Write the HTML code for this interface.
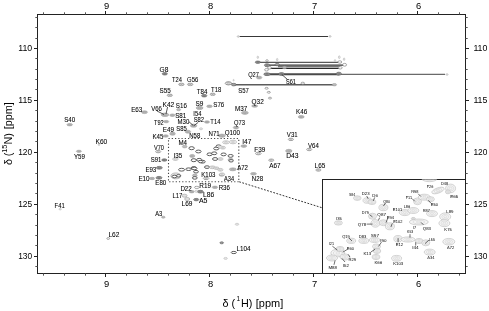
<!DOCTYPE html>
<html><head><meta charset="utf-8"><style>
html,body{margin:0;padding:0;background:#fff;}
svg{display:block;will-change:transform;}
text{font-family:"Liberation Sans",sans-serif;fill:#000;}
.tk{font-size:9.4px;}
.ttl{font-size:10.8px;}
.lb{font-size:6.5px;stroke:#000;stroke-width:0.07px;}
.sm{font-size:4.3px;text-rendering:geometricPrecision;}
</style></head><body>
<svg width="489" height="311" viewBox="0 0 489 311">
<rect x="37.5" y="14.5" width="428.0" height="259.0" fill="none" stroke="#222" stroke-width="1"/>
<line x1="43.5" y1="14.5" x2="43.5" y2="12.3" stroke="#555" stroke-width="1"/>
<line x1="43.5" y1="273.5" x2="43.5" y2="275.7" stroke="#555" stroke-width="1"/>
<line x1="64.5" y1="14.5" x2="64.5" y2="12.3" stroke="#555" stroke-width="1"/>
<line x1="64.5" y1="273.5" x2="64.5" y2="275.7" stroke="#555" stroke-width="1"/>
<line x1="85.5" y1="14.5" x2="85.5" y2="12.3" stroke="#555" stroke-width="1"/>
<line x1="85.5" y1="273.5" x2="85.5" y2="275.7" stroke="#555" stroke-width="1"/>
<line x1="105.5" y1="14.5" x2="105.5" y2="11.0" stroke="#222" stroke-width="1"/>
<line x1="105.5" y1="273.5" x2="105.5" y2="277.0" stroke="#222" stroke-width="1"/>
<text x="106.6" y="8.8" class="tk" text-anchor="middle">9</text>
<text x="106.6" y="287.2" class="tk" text-anchor="middle">9</text>
<line x1="126.5" y1="14.5" x2="126.5" y2="12.3" stroke="#555" stroke-width="1"/>
<line x1="126.5" y1="273.5" x2="126.5" y2="275.7" stroke="#555" stroke-width="1"/>
<line x1="147.5" y1="14.5" x2="147.5" y2="12.3" stroke="#555" stroke-width="1"/>
<line x1="147.5" y1="273.5" x2="147.5" y2="275.7" stroke="#555" stroke-width="1"/>
<line x1="168.5" y1="14.5" x2="168.5" y2="12.3" stroke="#555" stroke-width="1"/>
<line x1="168.5" y1="273.5" x2="168.5" y2="275.7" stroke="#555" stroke-width="1"/>
<line x1="189.5" y1="14.5" x2="189.5" y2="12.3" stroke="#555" stroke-width="1"/>
<line x1="189.5" y1="273.5" x2="189.5" y2="275.7" stroke="#555" stroke-width="1"/>
<line x1="209.5" y1="14.5" x2="209.5" y2="11.0" stroke="#222" stroke-width="1"/>
<line x1="209.5" y1="273.5" x2="209.5" y2="277.0" stroke="#222" stroke-width="1"/>
<text x="210.6" y="8.8" class="tk" text-anchor="middle">8</text>
<text x="210.6" y="287.2" class="tk" text-anchor="middle">8</text>
<line x1="230.5" y1="14.5" x2="230.5" y2="12.3" stroke="#555" stroke-width="1"/>
<line x1="230.5" y1="273.5" x2="230.5" y2="275.7" stroke="#555" stroke-width="1"/>
<line x1="251.5" y1="14.5" x2="251.5" y2="12.3" stroke="#555" stroke-width="1"/>
<line x1="251.5" y1="273.5" x2="251.5" y2="275.7" stroke="#555" stroke-width="1"/>
<line x1="272.5" y1="14.5" x2="272.5" y2="12.3" stroke="#555" stroke-width="1"/>
<line x1="272.5" y1="273.5" x2="272.5" y2="275.7" stroke="#555" stroke-width="1"/>
<line x1="293.5" y1="14.5" x2="293.5" y2="12.3" stroke="#555" stroke-width="1"/>
<line x1="293.5" y1="273.5" x2="293.5" y2="275.7" stroke="#555" stroke-width="1"/>
<line x1="313.5" y1="14.5" x2="313.5" y2="11.0" stroke="#222" stroke-width="1"/>
<line x1="313.5" y1="273.5" x2="313.5" y2="277.0" stroke="#222" stroke-width="1"/>
<text x="314.6" y="8.8" class="tk" text-anchor="middle">7</text>
<text x="314.6" y="287.2" class="tk" text-anchor="middle">7</text>
<line x1="334.5" y1="14.5" x2="334.5" y2="12.3" stroke="#555" stroke-width="1"/>
<line x1="334.5" y1="273.5" x2="334.5" y2="275.7" stroke="#555" stroke-width="1"/>
<line x1="355.5" y1="14.5" x2="355.5" y2="12.3" stroke="#555" stroke-width="1"/>
<line x1="355.5" y1="273.5" x2="355.5" y2="275.7" stroke="#555" stroke-width="1"/>
<line x1="376.5" y1="14.5" x2="376.5" y2="12.3" stroke="#555" stroke-width="1"/>
<line x1="376.5" y1="273.5" x2="376.5" y2="275.7" stroke="#555" stroke-width="1"/>
<line x1="397.5" y1="14.5" x2="397.5" y2="12.3" stroke="#555" stroke-width="1"/>
<line x1="397.5" y1="273.5" x2="397.5" y2="275.7" stroke="#555" stroke-width="1"/>
<line x1="417.5" y1="14.5" x2="417.5" y2="11.0" stroke="#222" stroke-width="1"/>
<line x1="417.5" y1="273.5" x2="417.5" y2="277.0" stroke="#222" stroke-width="1"/>
<text x="418.6" y="8.8" class="tk" text-anchor="middle">6</text>
<text x="418.6" y="287.2" class="tk" text-anchor="middle">6</text>
<line x1="438.5" y1="14.5" x2="438.5" y2="12.3" stroke="#555" stroke-width="1"/>
<line x1="438.5" y1="273.5" x2="438.5" y2="275.7" stroke="#555" stroke-width="1"/>
<line x1="459.5" y1="14.5" x2="459.5" y2="12.3" stroke="#555" stroke-width="1"/>
<line x1="459.5" y1="273.5" x2="459.5" y2="275.7" stroke="#555" stroke-width="1"/>
<line x1="37.5" y1="17.5" x2="35.3" y2="17.5" stroke="#555" stroke-width="1"/>
<line x1="465.5" y1="17.5" x2="467.7" y2="17.5" stroke="#555" stroke-width="1"/>
<line x1="37.5" y1="27.5" x2="35.3" y2="27.5" stroke="#555" stroke-width="1"/>
<line x1="465.5" y1="27.5" x2="467.7" y2="27.5" stroke="#555" stroke-width="1"/>
<line x1="37.5" y1="38.5" x2="35.3" y2="38.5" stroke="#555" stroke-width="1"/>
<line x1="465.5" y1="38.5" x2="467.7" y2="38.5" stroke="#555" stroke-width="1"/>
<line x1="37.5" y1="48.5" x2="34.0" y2="48.5" stroke="#222" stroke-width="1"/>
<line x1="465.5" y1="48.5" x2="469.0" y2="48.5" stroke="#222" stroke-width="1"/>
<text x="32.2" y="51.1" class="tk" text-anchor="end" textLength="14" lengthAdjust="spacingAndGlyphs">110</text>
<text x="473.4" y="51.1" class="tk" textLength="14" lengthAdjust="spacingAndGlyphs">110</text>
<line x1="37.5" y1="58.5" x2="35.3" y2="58.5" stroke="#555" stroke-width="1"/>
<line x1="465.5" y1="58.5" x2="467.7" y2="58.5" stroke="#555" stroke-width="1"/>
<line x1="37.5" y1="69.5" x2="35.3" y2="69.5" stroke="#555" stroke-width="1"/>
<line x1="465.5" y1="69.5" x2="467.7" y2="69.5" stroke="#555" stroke-width="1"/>
<line x1="37.5" y1="79.5" x2="35.3" y2="79.5" stroke="#555" stroke-width="1"/>
<line x1="465.5" y1="79.5" x2="467.7" y2="79.5" stroke="#555" stroke-width="1"/>
<line x1="37.5" y1="89.5" x2="35.3" y2="89.5" stroke="#555" stroke-width="1"/>
<line x1="465.5" y1="89.5" x2="467.7" y2="89.5" stroke="#555" stroke-width="1"/>
<line x1="37.5" y1="100.5" x2="34.0" y2="100.5" stroke="#222" stroke-width="1"/>
<line x1="465.5" y1="100.5" x2="469.0" y2="100.5" stroke="#222" stroke-width="1"/>
<text x="32.2" y="103.1" class="tk" text-anchor="end" textLength="14" lengthAdjust="spacingAndGlyphs">115</text>
<text x="473.4" y="103.1" class="tk" textLength="14" lengthAdjust="spacingAndGlyphs">115</text>
<line x1="37.5" y1="110.5" x2="35.3" y2="110.5" stroke="#555" stroke-width="1"/>
<line x1="465.5" y1="110.5" x2="467.7" y2="110.5" stroke="#555" stroke-width="1"/>
<line x1="37.5" y1="121.5" x2="35.3" y2="121.5" stroke="#555" stroke-width="1"/>
<line x1="465.5" y1="121.5" x2="467.7" y2="121.5" stroke="#555" stroke-width="1"/>
<line x1="37.5" y1="131.5" x2="35.3" y2="131.5" stroke="#555" stroke-width="1"/>
<line x1="465.5" y1="131.5" x2="467.7" y2="131.5" stroke="#555" stroke-width="1"/>
<line x1="37.5" y1="141.5" x2="35.3" y2="141.5" stroke="#555" stroke-width="1"/>
<line x1="465.5" y1="141.5" x2="467.7" y2="141.5" stroke="#555" stroke-width="1"/>
<line x1="37.5" y1="152.5" x2="34.0" y2="152.5" stroke="#222" stroke-width="1"/>
<line x1="465.5" y1="152.5" x2="469.0" y2="152.5" stroke="#222" stroke-width="1"/>
<text x="32.2" y="155.1" class="tk" text-anchor="end" textLength="14" lengthAdjust="spacingAndGlyphs">120</text>
<text x="473.4" y="155.1" class="tk" textLength="14" lengthAdjust="spacingAndGlyphs">120</text>
<line x1="37.5" y1="162.5" x2="35.3" y2="162.5" stroke="#555" stroke-width="1"/>
<line x1="465.5" y1="162.5" x2="467.7" y2="162.5" stroke="#555" stroke-width="1"/>
<line x1="37.5" y1="173.5" x2="35.3" y2="173.5" stroke="#555" stroke-width="1"/>
<line x1="465.5" y1="173.5" x2="467.7" y2="173.5" stroke="#555" stroke-width="1"/>
<line x1="37.5" y1="183.5" x2="35.3" y2="183.5" stroke="#555" stroke-width="1"/>
<line x1="465.5" y1="183.5" x2="467.7" y2="183.5" stroke="#555" stroke-width="1"/>
<line x1="37.5" y1="193.5" x2="35.3" y2="193.5" stroke="#555" stroke-width="1"/>
<line x1="465.5" y1="193.5" x2="467.7" y2="193.5" stroke="#555" stroke-width="1"/>
<line x1="37.5" y1="204.5" x2="34.0" y2="204.5" stroke="#222" stroke-width="1"/>
<line x1="465.5" y1="204.5" x2="469.0" y2="204.5" stroke="#222" stroke-width="1"/>
<text x="32.2" y="207.1" class="tk" text-anchor="end" textLength="14" lengthAdjust="spacingAndGlyphs">125</text>
<text x="473.4" y="207.1" class="tk" textLength="14" lengthAdjust="spacingAndGlyphs">125</text>
<line x1="37.5" y1="214.5" x2="35.3" y2="214.5" stroke="#555" stroke-width="1"/>
<line x1="465.5" y1="214.5" x2="467.7" y2="214.5" stroke="#555" stroke-width="1"/>
<line x1="37.5" y1="225.5" x2="35.3" y2="225.5" stroke="#555" stroke-width="1"/>
<line x1="465.5" y1="225.5" x2="467.7" y2="225.5" stroke="#555" stroke-width="1"/>
<line x1="37.5" y1="235.5" x2="35.3" y2="235.5" stroke="#555" stroke-width="1"/>
<line x1="465.5" y1="235.5" x2="467.7" y2="235.5" stroke="#555" stroke-width="1"/>
<line x1="37.5" y1="245.5" x2="35.3" y2="245.5" stroke="#555" stroke-width="1"/>
<line x1="465.5" y1="245.5" x2="467.7" y2="245.5" stroke="#555" stroke-width="1"/>
<line x1="37.5" y1="256.5" x2="34.0" y2="256.5" stroke="#222" stroke-width="1"/>
<line x1="465.5" y1="256.5" x2="469.0" y2="256.5" stroke="#222" stroke-width="1"/>
<text x="32.2" y="259.1" class="tk" text-anchor="end" textLength="14" lengthAdjust="spacingAndGlyphs">130</text>
<text x="473.4" y="259.1" class="tk" textLength="14" lengthAdjust="spacingAndGlyphs">130</text>
<line x1="37.5" y1="266.5" x2="35.3" y2="266.5" stroke="#555" stroke-width="1"/>
<line x1="465.5" y1="266.5" x2="467.7" y2="266.5" stroke="#555" stroke-width="1"/>
<g class="ttl"><text x="222.6" y="306.9">&#948;</text><text x="231.6" y="306.9">(</text><text x="236.6" y="300.9" font-size="6.6">1</text><text x="240.9" y="306.9">H)</text><text x="255.8" y="306.9" textLength="27.4" lengthAdjust="spacingAndGlyphs">[ppm]</text></g>
<g class="ttl" transform="translate(11.7,0) rotate(-90)"><text x="-164.9" y="0">&#948;</text><text x="-156.25" y="0">(</text><text x="-152.75" y="-5.1" font-size="7.2">15</text><text x="-144.6" y="0">N)</text><text x="-129.35" y="0" textLength="27.2" lengthAdjust="spacingAndGlyphs">[ppm]</text></g>
<line x1="239.3" y1="36.5" x2="328" y2="36.5" stroke="#383838" stroke-width="1.0"/>
<line x1="257" y1="62.3" x2="340" y2="62.3" stroke="#303030" stroke-width="1.0"/>
<line x1="267" y1="65.1" x2="344" y2="65.1" stroke="#333" stroke-width="1.3"/>
<line x1="278" y1="66.7" x2="340" y2="66.7" stroke="#555" stroke-width="1.0"/>
<line x1="270" y1="68.3" x2="340" y2="68.3" stroke="#2a2a2a" stroke-width="1.2"/>
<line x1="265" y1="74.2" x2="339" y2="74.2" stroke="#4a4a4a" stroke-width="2.0"/>
<line x1="339" y1="74.4" x2="445" y2="74.4" stroke="#6a6a6a" stroke-width="1.1"/>
<line x1="234" y1="84.8" x2="334" y2="84.8" stroke="#5c5c5c" stroke-width="1.4"/>
<ellipse cx="164.8" cy="73.8" rx="2.6" ry="1.25" fill="#a0a0a0" stroke="#555" stroke-width="0.6"/>
<ellipse cx="164.8" cy="73.8" rx="1.17" ry="0.56" fill="none" stroke="#555" stroke-width="0.4"/>
<ellipse cx="181.4" cy="84.4" rx="2.8" ry="1.3" fill="#d8d8d8" stroke="#7a7a7a" stroke-width="0.45"/>
<ellipse cx="180.22" cy="84.4" rx="0.92" ry="0.65" fill="#fff" stroke="#6a6a6a" stroke-width="0.4"/>
<ellipse cx="182.58" cy="84.4" rx="0.92" ry="0.65" fill="#fff" stroke="#6a6a6a" stroke-width="0.4"/>
<ellipse cx="190.2" cy="84.4" rx="2.8" ry="1.3" fill="#d8d8d8" stroke="#7a7a7a" stroke-width="0.45"/>
<ellipse cx="189.02" cy="84.4" rx="0.92" ry="0.65" fill="#fff" stroke="#6a6a6a" stroke-width="0.4"/>
<ellipse cx="191.38" cy="84.4" rx="0.92" ry="0.65" fill="#fff" stroke="#6a6a6a" stroke-width="0.4"/>
<ellipse cx="228.6" cy="83.3" rx="3.2" ry="1.5" fill="#ffffff" stroke="#707070" stroke-width="0.6"/>
<ellipse cx="228.6" cy="83.3" rx="1.44" ry="0.68" fill="none" stroke="#707070" stroke-width="0.4"/>
<ellipse cx="169.8" cy="95.3" rx="2.7" ry="1.3" fill="#d8d8d8" stroke="#7a7a7a" stroke-width="0.45"/>
<ellipse cx="168.67" cy="95.3" rx="0.89" ry="0.65" fill="#fff" stroke="#6a6a6a" stroke-width="0.4"/>
<ellipse cx="170.93" cy="95.3" rx="0.89" ry="0.65" fill="#fff" stroke="#6a6a6a" stroke-width="0.4"/>
<ellipse cx="204.2" cy="95.7" rx="2.7" ry="1.3" fill="#a0a0a0" stroke="#555" stroke-width="0.6"/>
<ellipse cx="204.2" cy="95.7" rx="1.22" ry="0.59" fill="none" stroke="#555" stroke-width="0.4"/>
<ellipse cx="212.7" cy="94.3" rx="2.6" ry="1.3" fill="#d8d8d8" stroke="#7a7a7a" stroke-width="0.45"/>
<ellipse cx="211.61" cy="94.3" rx="0.86" ry="0.65" fill="#fff" stroke="#6a6a6a" stroke-width="0.4"/>
<ellipse cx="213.79" cy="94.3" rx="0.86" ry="0.65" fill="#fff" stroke="#6a6a6a" stroke-width="0.4"/>
<ellipse cx="233.7" cy="84.6" rx="2.4" ry="1.3" fill="#a0a0a0" stroke="#555" stroke-width="0.6"/>
<ellipse cx="257.8" cy="62.2" rx="2.6" ry="1.2" fill="#a0a0a0" stroke="#555" stroke-width="0.6"/>
<ellipse cx="257.8" cy="62.2" rx="1.17" ry="0.54" fill="none" stroke="#555" stroke-width="0.4"/>
<ellipse cx="267" cy="65.2" rx="2.6" ry="1.5" fill="#a0a0a0" stroke="#555" stroke-width="0.6"/>
<ellipse cx="267" cy="65.2" rx="1.17" ry="0.68" fill="none" stroke="#555" stroke-width="0.4"/>
<ellipse cx="277.2" cy="64.6" rx="2.2" ry="1.2" fill="#a0a0a0" stroke="#555" stroke-width="0.6"/>
<ellipse cx="284.5" cy="67.5" rx="2.2" ry="1.2" fill="#bcbcbc" stroke="#959595" stroke-width="0.5"/>
<ellipse cx="267" cy="74.2" rx="3.2" ry="1.4" fill="#a0a0a0" stroke="#555" stroke-width="0.6"/>
<ellipse cx="267" cy="74.2" rx="1.44" ry="0.63" fill="none" stroke="#555" stroke-width="0.4"/>
<ellipse cx="281.5" cy="74.0" rx="2.8" ry="1.4" fill="#a0a0a0" stroke="#555" stroke-width="0.6"/>
<ellipse cx="281.5" cy="74.0" rx="1.26" ry="0.63" fill="none" stroke="#555" stroke-width="0.4"/>
<ellipse cx="259.1" cy="77.6" rx="2.8" ry="1.4" fill="#bcbcbc" stroke="#959595" stroke-width="0.5"/>
<ellipse cx="259.1" cy="77.6" rx="1.26" ry="0.63" fill="none" stroke="#959595" stroke-width="0.4"/>
<ellipse cx="266.5" cy="69.8" rx="2.0" ry="1.2" fill="#ffffff" stroke="#707070" stroke-width="0.6"/>
<ellipse cx="269.5" cy="67.8" rx="2.0" ry="1.2" fill="#ffffff" stroke="#707070" stroke-width="0.6"/>
<ellipse cx="339.8" cy="62" rx="2.0" ry="1.2" fill="#ffffff" stroke="#707070" stroke-width="0.6"/>
<ellipse cx="344.6" cy="64.8" rx="2.0" ry="1.4" fill="#ffffff" stroke="#707070" stroke-width="0.6"/>
<ellipse cx="340.2" cy="67.8" rx="2.0" ry="1.2" fill="#ffffff" stroke="#707070" stroke-width="0.6"/>
<ellipse cx="338.8" cy="73.7" rx="2.6" ry="1.5" fill="#a0a0a0" stroke="#555" stroke-width="0.6"/>
<ellipse cx="338.8" cy="73.7" rx="1.17" ry="0.68" fill="none" stroke="#555" stroke-width="0.4"/>
<ellipse cx="334.4" cy="84.7" rx="2.2" ry="1.2" fill="#bcbcbc" stroke="#959595" stroke-width="0.5"/>
<ellipse cx="266.6" cy="88.3" rx="1.6" ry="0.9" fill="#ffffff" stroke="#707070" stroke-width="0.6"/>
<ellipse cx="268.8" cy="92.3" rx="1.6" ry="0.9" fill="#ffffff" stroke="#707070" stroke-width="0.6"/>
<ellipse cx="270" cy="98.1" rx="1.6" ry="0.9" fill="#ffffff" stroke="#707070" stroke-width="0.6"/>
<ellipse cx="302.8" cy="83.2" rx="1.8" ry="1.0" fill="#ffffff" stroke="#707070" stroke-width="0.6"/>
<ellipse cx="238.3" cy="36.5" rx="1.2" ry="0.8" fill="#f5f5f5" stroke="#acacac" stroke-width="0.5"/>
<ellipse cx="238.3" cy="36.5" rx="0.74" ry="0.50" fill="none" stroke="#c6c6c6" stroke-width="0.45"/>
<ellipse cx="238.3" cy="36.5" rx="0.34" ry="0.22" fill="none" stroke="#c6c6c6" stroke-width="0.4"/>
<ellipse cx="257.8" cy="57.3" rx="0.8" ry="1.2" fill="#e6e6e6" stroke="#b0b0b0" stroke-width="0.5"/>
<ellipse cx="277.2" cy="59.6" rx="0.8" ry="1.2" fill="#e6e6e6" stroke="#b0b0b0" stroke-width="0.5"/>
<ellipse cx="267" cy="60.7" rx="1.2" ry="1.0" fill="#ffffff" stroke="#707070" stroke-width="0.6"/>
<ellipse cx="335" cy="60.6" rx="0.8" ry="1.0" fill="#e6e6e6" stroke="#b0b0b0" stroke-width="0.5"/>
<ellipse cx="339.3" cy="57.2" rx="0.9" ry="1.4" fill="#e6e6e6" stroke="#b0b0b0" stroke-width="0.5"/>
<ellipse cx="344.1" cy="59.2" rx="0.8" ry="1.3" fill="#e6e6e6" stroke="#b0b0b0" stroke-width="0.5"/>
<ellipse cx="233.6" cy="80.2" rx="0.6" ry="0.8" fill="#e6e6e6" stroke="#b0b0b0" stroke-width="0.5"/>
<ellipse cx="330" cy="36.4" rx="1.2" ry="0.8" fill="#f5f5f5" stroke="#acacac" stroke-width="0.5"/>
<ellipse cx="330" cy="36.4" rx="0.74" ry="0.50" fill="none" stroke="#c6c6c6" stroke-width="0.45"/>
<ellipse cx="330" cy="36.4" rx="0.34" ry="0.22" fill="none" stroke="#c6c6c6" stroke-width="0.4"/>
<ellipse cx="447" cy="74.5" rx="1.2" ry="0.8" fill="#f5f5f5" stroke="#acacac" stroke-width="0.5"/>
<ellipse cx="447" cy="74.5" rx="0.74" ry="0.50" fill="none" stroke="#c6c6c6" stroke-width="0.45"/>
<ellipse cx="447" cy="74.5" rx="0.34" ry="0.22" fill="none" stroke="#c6c6c6" stroke-width="0.4"/>
<ellipse cx="228.2" cy="83.4" rx="3" ry="1.4" fill="#ffffff" stroke="#707070" stroke-width="0.6"/>
<ellipse cx="228.2" cy="83.4" rx="1.35" ry="0.63" fill="none" stroke="#707070" stroke-width="0.4"/>
<ellipse cx="144.5" cy="112.2" rx="3.0" ry="1.4" fill="#bcbcbc" stroke="#959595" stroke-width="0.5"/>
<ellipse cx="144.5" cy="112.2" rx="1.35" ry="0.63" fill="none" stroke="#959595" stroke-width="0.4"/>
<ellipse cx="165.0" cy="114.8" rx="3.8" ry="1.8" fill="#bcbcbc" stroke="#959595" stroke-width="0.5"/>
<ellipse cx="165.0" cy="114.8" rx="1.71" ry="0.81" fill="none" stroke="#959595" stroke-width="0.4"/>
<ellipse cx="172.4" cy="115.2" rx="2.6" ry="1.3" fill="#bcbcbc" stroke="#959595" stroke-width="0.5"/>
<ellipse cx="172.4" cy="115.2" rx="1.17" ry="0.59" fill="none" stroke="#959595" stroke-width="0.4"/>
<ellipse cx="178.6" cy="109.7" rx="2.0" ry="1.1" fill="#bcbcbc" stroke="#959595" stroke-width="0.5"/>
<ellipse cx="199.6" cy="107.9" rx="3.4" ry="1.6" fill="#bcbcbc" stroke="#959595" stroke-width="0.5"/>
<ellipse cx="199.6" cy="107.9" rx="1.53" ry="0.72" fill="none" stroke="#959595" stroke-width="0.4"/>
<ellipse cx="209.5" cy="106.3" rx="2.8" ry="1.3" fill="#bcbcbc" stroke="#959595" stroke-width="0.5"/>
<ellipse cx="209.5" cy="106.3" rx="1.26" ry="0.59" fill="none" stroke="#959595" stroke-width="0.4"/>
<ellipse cx="166.2" cy="121.6" rx="2.6" ry="1.2" fill="#bcbcbc" stroke="#959595" stroke-width="0.5"/>
<ellipse cx="166.2" cy="121.6" rx="1.17" ry="0.54" fill="none" stroke="#959595" stroke-width="0.4"/>
<ellipse cx="207.0" cy="122.0" rx="2.6" ry="1.2" fill="#bcbcbc" stroke="#959595" stroke-width="0.5"/>
<ellipse cx="207.0" cy="122.0" rx="1.17" ry="0.54" fill="none" stroke="#959595" stroke-width="0.4"/>
<ellipse cx="193.6" cy="125.7" rx="3.2" ry="1.6" fill="#bcbcbc" stroke="#959595" stroke-width="0.5"/>
<ellipse cx="193.6" cy="125.7" rx="1.44" ry="0.72" fill="none" stroke="#959595" stroke-width="0.4"/>
<ellipse cx="201" cy="128.8" rx="1.6" ry="1.0" fill="#e6e6e6" stroke="#b0b0b0" stroke-width="0.5"/>
<ellipse cx="236" cy="127.6" rx="2.8" ry="1.4" fill="#bcbcbc" stroke="#959595" stroke-width="0.5"/>
<ellipse cx="236" cy="127.6" rx="1.26" ry="0.63" fill="none" stroke="#959595" stroke-width="0.4"/>
<ellipse cx="172.5" cy="133.7" rx="2.8" ry="1.6" fill="#bcbcbc" stroke="#959595" stroke-width="0.5"/>
<ellipse cx="172.5" cy="133.7" rx="1.26" ry="0.72" fill="none" stroke="#959595" stroke-width="0.4"/>
<ellipse cx="187.9" cy="131.7" rx="2.8" ry="1.5" fill="#bcbcbc" stroke="#959595" stroke-width="0.5"/>
<ellipse cx="187.9" cy="131.7" rx="1.26" ry="0.68" fill="none" stroke="#959595" stroke-width="0.4"/>
<ellipse cx="165.8" cy="136.0" rx="2.6" ry="1.2" fill="#bcbcbc" stroke="#959595" stroke-width="0.5"/>
<ellipse cx="165.8" cy="136.0" rx="1.17" ry="0.54" fill="none" stroke="#959595" stroke-width="0.4"/>
<ellipse cx="221.9" cy="135.7" rx="3.4" ry="1.6" fill="#bcbcbc" stroke="#959595" stroke-width="0.5"/>
<ellipse cx="221.9" cy="135.7" rx="1.53" ry="0.72" fill="none" stroke="#959595" stroke-width="0.4"/>
<ellipse cx="254.7" cy="106" rx="3.0" ry="1.3" fill="#bcbcbc" stroke="#959595" stroke-width="0.5"/>
<ellipse cx="254.7" cy="106" rx="1.35" ry="0.59" fill="none" stroke="#959595" stroke-width="0.4"/>
<ellipse cx="244.9" cy="112.8" rx="3.4" ry="1.6" fill="#bcbcbc" stroke="#959595" stroke-width="0.5"/>
<ellipse cx="244.9" cy="112.8" rx="1.53" ry="0.72" fill="none" stroke="#959595" stroke-width="0.4"/>
<ellipse cx="301.2" cy="116.9" rx="3.0" ry="1.4" fill="#bcbcbc" stroke="#959595" stroke-width="0.5"/>
<ellipse cx="301.2" cy="116.9" rx="1.35" ry="0.63" fill="none" stroke="#959595" stroke-width="0.4"/>
<ellipse cx="243.8" cy="146.1" rx="3.0" ry="1.3" fill="#bcbcbc" stroke="#959595" stroke-width="0.5"/>
<ellipse cx="243.8" cy="146.1" rx="1.35" ry="0.59" fill="none" stroke="#959595" stroke-width="0.4"/>
<ellipse cx="258.3" cy="153.5" rx="2.8" ry="1.3" fill="#ffffff" stroke="#707070" stroke-width="0.6"/>
<ellipse cx="258.3" cy="153.5" rx="1.26" ry="0.59" fill="none" stroke="#707070" stroke-width="0.4"/>
<ellipse cx="290.9" cy="139.4" rx="2.6" ry="1.2" fill="#ffffff" stroke="#707070" stroke-width="0.6"/>
<ellipse cx="290.9" cy="139.4" rx="1.17" ry="0.54" fill="none" stroke="#707070" stroke-width="0.4"/>
<ellipse cx="309.2" cy="149.5" rx="2.6" ry="1.2" fill="#ffffff" stroke="#707070" stroke-width="0.6"/>
<ellipse cx="309.2" cy="149.5" rx="1.17" ry="0.54" fill="none" stroke="#707070" stroke-width="0.4"/>
<ellipse cx="288.8" cy="150.9" rx="3.2" ry="1.6" fill="#bcbcbc" stroke="#959595" stroke-width="0.5"/>
<ellipse cx="288.8" cy="150.9" rx="1.44" ry="0.72" fill="none" stroke="#959595" stroke-width="0.4"/>
<ellipse cx="271.3" cy="160.2" rx="2.6" ry="1.2" fill="#ffffff" stroke="#707070" stroke-width="0.6"/>
<ellipse cx="271.3" cy="160.2" rx="1.17" ry="0.54" fill="none" stroke="#707070" stroke-width="0.4"/>
<ellipse cx="318.4" cy="170" rx="2.6" ry="1.2" fill="#ffffff" stroke="#707070" stroke-width="0.6"/>
<ellipse cx="318.4" cy="170" rx="1.17" ry="0.54" fill="none" stroke="#707070" stroke-width="0.4"/>
<ellipse cx="253.5" cy="173.8" rx="3.0" ry="1.3" fill="#bcbcbc" stroke="#959595" stroke-width="0.5"/>
<ellipse cx="253.5" cy="173.8" rx="1.35" ry="0.59" fill="none" stroke="#959595" stroke-width="0.4"/>
<ellipse cx="232.8" cy="169.3" rx="3.4" ry="1.5" fill="#bcbcbc" stroke="#959595" stroke-width="0.5"/>
<ellipse cx="232.8" cy="169.3" rx="1.53" ry="0.68" fill="none" stroke="#959595" stroke-width="0.4"/>
<ellipse cx="221.7" cy="174.9" rx="2.6" ry="1.3" fill="#bcbcbc" stroke="#959595" stroke-width="0.5"/>
<ellipse cx="221.7" cy="174.9" rx="1.17" ry="0.59" fill="none" stroke="#959595" stroke-width="0.4"/>
<ellipse cx="206.1" cy="178.4" rx="2.8" ry="1.2" fill="#ffffff" stroke="#707070" stroke-width="0.6"/>
<ellipse cx="206.1" cy="178.4" rx="1.26" ry="0.54" fill="none" stroke="#707070" stroke-width="0.4"/>
<ellipse cx="214.9" cy="187.3" rx="2.8" ry="1.2" fill="#bcbcbc" stroke="#959595" stroke-width="0.5"/>
<ellipse cx="214.9" cy="187.3" rx="1.26" ry="0.54" fill="none" stroke="#959595" stroke-width="0.4"/>
<ellipse cx="196.8" cy="187.4" rx="2.4" ry="1.1" fill="#ffffff" stroke="#707070" stroke-width="0.6"/>
<ellipse cx="191.7" cy="191.7" rx="2.6" ry="1.2" fill="#bcbcbc" stroke="#959595" stroke-width="0.5"/>
<ellipse cx="191.7" cy="191.7" rx="1.17" ry="0.54" fill="none" stroke="#959595" stroke-width="0.4"/>
<ellipse cx="196.8" cy="191.3" rx="2.2" ry="1.1" fill="#e6e6e6" stroke="#b0b0b0" stroke-width="0.5"/>
<ellipse cx="200.5" cy="191.7" rx="2.8" ry="1.4" fill="#a0a0a0" stroke="#555" stroke-width="0.6"/>
<ellipse cx="200.5" cy="191.7" rx="1.26" ry="0.63" fill="none" stroke="#555" stroke-width="0.4"/>
<ellipse cx="184.5" cy="195.7" rx="2.6" ry="1.5" fill="#e2e2e2" stroke="#8a8a8a" stroke-width="0.5"/>
<ellipse cx="187.2" cy="199" rx="2.6" ry="1.5" fill="#e2e2e2" stroke="#8a8a8a" stroke-width="0.5"/>
<ellipse cx="196.2" cy="199.6" rx="2.6" ry="1.2" fill="#a0a0a0" stroke="#555" stroke-width="0.6"/>
<ellipse cx="196.2" cy="199.6" rx="1.17" ry="0.54" fill="none" stroke="#555" stroke-width="0.4"/>
<ellipse cx="163.3" cy="217.2" rx="1.8" ry="1.0" fill="#bcbcbc" stroke="#959595" stroke-width="0.5"/>
<ellipse cx="237" cy="224.3" rx="1.8" ry="1.0" fill="#e6e6e6" stroke="#b0b0b0" stroke-width="0.5"/>
<ellipse cx="221.7" cy="242.8" rx="1.8" ry="1.0" fill="#a0a0a0" stroke="#555" stroke-width="0.6"/>
<ellipse cx="233.8" cy="252.5" rx="2.6" ry="1.1" fill="#ffffff" stroke="#4a4a4a" stroke-width="0.9"/>
<ellipse cx="225.6" cy="258.4" rx="1.8" ry="1.0" fill="#e6e6e6" stroke="#b0b0b0" stroke-width="0.5"/>
<ellipse cx="69.7" cy="124.7" rx="2.8" ry="1.2" fill="#bcbcbc" stroke="#959595" stroke-width="0.5"/>
<ellipse cx="69.7" cy="124.7" rx="1.26" ry="0.54" fill="none" stroke="#959595" stroke-width="0.4"/>
<ellipse cx="99" cy="144.8" rx="1.0" ry="0.7" fill="#e6e6e6" stroke="#b0b0b0" stroke-width="0.5"/>
<ellipse cx="78.9" cy="151.3" rx="2.6" ry="1.1" fill="#bcbcbc" stroke="#959595" stroke-width="0.5"/>
<ellipse cx="78.9" cy="151.3" rx="1.17" ry="0.50" fill="none" stroke="#959595" stroke-width="0.4"/>
<ellipse cx="158.2" cy="151.6" rx="2.6" ry="1.2" fill="#ffffff" stroke="#707070" stroke-width="0.6"/>
<ellipse cx="158.2" cy="151.6" rx="1.17" ry="0.54" fill="none" stroke="#707070" stroke-width="0.4"/>
<ellipse cx="164.3" cy="160.0" rx="2.6" ry="1.2" fill="#a0a0a0" stroke="#555" stroke-width="0.6"/>
<ellipse cx="164.3" cy="160.0" rx="1.17" ry="0.54" fill="none" stroke="#555" stroke-width="0.4"/>
<ellipse cx="159.3" cy="167.8" rx="3.0" ry="1.4" fill="#a0a0a0" stroke="#555" stroke-width="0.6"/>
<ellipse cx="159.3" cy="167.8" rx="1.35" ry="0.63" fill="none" stroke="#555" stroke-width="0.4"/>
<ellipse cx="152.1" cy="178.5" rx="2.6" ry="1.2" fill="#bcbcbc" stroke="#959595" stroke-width="0.5"/>
<ellipse cx="152.1" cy="178.5" rx="1.17" ry="0.54" fill="none" stroke="#959595" stroke-width="0.4"/>
<ellipse cx="159.0" cy="177.8" rx="3.0" ry="1.4" fill="#a0a0a0" stroke="#555" stroke-width="0.6"/>
<ellipse cx="159.0" cy="177.8" rx="1.35" ry="0.63" fill="none" stroke="#555" stroke-width="0.4"/>
<ellipse cx="60.2" cy="209.2" rx="1.2" ry="0.8" fill="#e6e6e6" stroke="#b0b0b0" stroke-width="0.5"/>
<ellipse cx="108.2" cy="238.5" rx="1.4" ry="0.9" fill="#ffffff" stroke="#707070" stroke-width="0.6"/>
<ellipse cx="175.4" cy="159.1" rx="2.8" ry="1.4" fill="#f4f4f4" stroke="#999" stroke-width="0.5"/>
<ellipse cx="175.4" cy="159.1" rx="1.26" ry="0.63" fill="none" stroke="#999" stroke-width="0.4"/>
<ellipse cx="184.7" cy="146.6" rx="2.4" ry="1.3" fill="#bcbcbc" stroke="#959595" stroke-width="0.5"/>
<ellipse cx="191.6" cy="148.2" rx="2.7" ry="1.5" fill="#ffffff" stroke="#4a4a4a" stroke-width="0.9"/>
<ellipse cx="198.4" cy="151.5" rx="2.7" ry="1.4" fill="#ffffff" stroke="#4a4a4a" stroke-width="0.9"/>
<ellipse cx="192.2" cy="155.9" rx="2.6" ry="1.5" fill="#bcbcbc" stroke="#959595" stroke-width="0.5"/>
<ellipse cx="192.2" cy="155.9" rx="1.17" ry="0.68" fill="none" stroke="#959595" stroke-width="0.4"/>
<ellipse cx="193.8" cy="160.2" rx="2.6" ry="1.5" fill="#ffffff" stroke="#4a4a4a" stroke-width="0.9"/>
<ellipse cx="199.2" cy="159.8" rx="2.6" ry="1.4" fill="#ffffff" stroke="#4a4a4a" stroke-width="0.9"/>
<ellipse cx="202.7" cy="161.7" rx="2.5" ry="1.4" fill="#ffffff" stroke="#4a4a4a" stroke-width="0.9"/>
<ellipse cx="209.6" cy="154.3" rx="2.6" ry="1.4" fill="#ffffff" stroke="#4a4a4a" stroke-width="0.9"/>
<ellipse cx="214.2" cy="153.3" rx="2.6" ry="1.4" fill="#ffffff" stroke="#4a4a4a" stroke-width="0.9"/>
<ellipse cx="216.3" cy="148.5" rx="2.6" ry="1.4" fill="#ffffff" stroke="#4a4a4a" stroke-width="0.9"/>
<ellipse cx="218.6" cy="146.3" rx="2.6" ry="1.4" fill="#ffffff" stroke="#4a4a4a" stroke-width="0.9"/>
<ellipse cx="222.9" cy="147.7" rx="2.6" ry="1.4" fill="#f4f4f4" stroke="#999" stroke-width="0.5"/>
<ellipse cx="222.9" cy="147.7" rx="1.17" ry="0.63" fill="none" stroke="#999" stroke-width="0.4"/>
<ellipse cx="220.2" cy="146.9" rx="2" ry="1.2" fill="#e6e6e6" stroke="#b0b0b0" stroke-width="0.5"/>
<ellipse cx="223.6" cy="154.4" rx="2.6" ry="1.4" fill="#ffffff" stroke="#4a4a4a" stroke-width="0.9"/>
<ellipse cx="230.6" cy="155.9" rx="2.6" ry="1.4" fill="#ffffff" stroke="#4a4a4a" stroke-width="0.9"/>
<ellipse cx="215.1" cy="159.0" rx="2.6" ry="1.4" fill="#ffffff" stroke="#4a4a4a" stroke-width="0.9"/>
<ellipse cx="220.5" cy="159.0" rx="2.6" ry="1.4" fill="#f4f4f4" stroke="#999" stroke-width="0.5"/>
<ellipse cx="220.5" cy="159.0" rx="1.17" ry="0.63" fill="none" stroke="#999" stroke-width="0.4"/>
<ellipse cx="230.6" cy="159.8" rx="2.6" ry="1.4" fill="#bcbcbc" stroke="#959595" stroke-width="0.5"/>
<ellipse cx="230.6" cy="159.8" rx="1.17" ry="0.63" fill="none" stroke="#959595" stroke-width="0.4"/>
<ellipse cx="226" cy="142.3" rx="3.4" ry="1.6" fill="#f4f4f4" stroke="#999" stroke-width="0.5"/>
<ellipse cx="226" cy="142.3" rx="1.53" ry="0.72" fill="none" stroke="#999" stroke-width="0.4"/>
<ellipse cx="233" cy="142.0" rx="3.6" ry="1.8" fill="#f4f4f4" stroke="#999" stroke-width="0.5"/>
<ellipse cx="233" cy="142.0" rx="1.62" ry="0.81" fill="none" stroke="#999" stroke-width="0.4"/>
<ellipse cx="207" cy="167.1" rx="2.6" ry="1.3" fill="#ffffff" stroke="#4a4a4a" stroke-width="0.9"/>
<ellipse cx="212.4" cy="167.3" rx="3.0" ry="1.4" fill="#f4f4f4" stroke="#999" stroke-width="0.5"/>
<ellipse cx="212.4" cy="167.3" rx="1.35" ry="0.63" fill="none" stroke="#999" stroke-width="0.4"/>
<ellipse cx="216.4" cy="168.2" rx="2.6" ry="1.3" fill="#f4f4f4" stroke="#999" stroke-width="0.5"/>
<ellipse cx="216.4" cy="168.2" rx="1.17" ry="0.59" fill="none" stroke="#999" stroke-width="0.4"/>
<ellipse cx="220.4" cy="169.8" rx="2.6" ry="1.4" fill="#f4f4f4" stroke="#999" stroke-width="0.5"/>
<ellipse cx="220.4" cy="169.8" rx="1.17" ry="0.63" fill="none" stroke="#999" stroke-width="0.4"/>
<ellipse cx="222.1" cy="174.3" rx="2.6" ry="1.4" fill="#f4f4f4" stroke="#999" stroke-width="0.5"/>
<ellipse cx="222.1" cy="174.3" rx="1.17" ry="0.63" fill="none" stroke="#999" stroke-width="0.4"/>
<ellipse cx="193.8" cy="167.9" rx="2.6" ry="1.3" fill="#ffffff" stroke="#4a4a4a" stroke-width="0.9"/>
<ellipse cx="181.6" cy="169.7" rx="3.0" ry="1.4" fill="#ffffff" stroke="#4a4a4a" stroke-width="0.9"/>
<ellipse cx="188.6" cy="169.2" rx="2.8" ry="1.3" fill="#ffffff" stroke="#4a4a4a" stroke-width="0.9"/>
<ellipse cx="194.4" cy="168.5" rx="2.6" ry="1.3" fill="#ffffff" stroke="#4a4a4a" stroke-width="0.9"/>
<ellipse cx="196" cy="171.7" rx="2.4" ry="1.3" fill="#ffffff" stroke="#4a4a4a" stroke-width="0.9"/>
<ellipse cx="194.8" cy="175.5" rx="2.4" ry="1.4" fill="#bcbcbc" stroke="#959595" stroke-width="0.5"/>
<ellipse cx="194.8" cy="177.9" rx="2.4" ry="1.3" fill="#ffffff" stroke="#4a4a4a" stroke-width="0.9"/>
<ellipse cx="175.8" cy="175.9" rx="5.0" ry="3.0" fill="#e2e2e2" stroke="#8a8a8a" stroke-width="0.5"/>
<ellipse cx="174.5" cy="176.5" rx="2.4" ry="1.3" fill="#ffffff" stroke="#4a4a4a" stroke-width="0.9"/>
<ellipse cx="178.5" cy="175.8" rx="2.2" ry="1.2" fill="#ffffff" stroke="#4a4a4a" stroke-width="0.9"/>
<ellipse cx="200.6" cy="161.6" rx="2.2" ry="1.2" fill="#ffffff" stroke="#4a4a4a" stroke-width="0.9"/>
<ellipse cx="231.1" cy="160.8" rx="2.2" ry="1.2" fill="#ffffff" stroke="#4a4a4a" stroke-width="0.9"/>
<path d="M168.5,138.5 H238.8 V181.8 H168.5 Z" fill="none" stroke="#444" stroke-width="1.1" stroke-dasharray="1.2,2.05"/>
<line x1="239.2" y1="181.8" x2="322.5" y2="207.9" stroke="#333" stroke-width="1.0" stroke-dasharray="1.8,1.45"/>
<line x1="157" y1="111" x2="164" y2="114.5" stroke="#111" stroke-width="0.7"/>
<line x1="167.6" y1="107" x2="166" y2="114" stroke="#111" stroke-width="0.7"/>
<line x1="189" y1="121.8" x2="193.4" y2="125.6" stroke="#111" stroke-width="0.7"/>
<line x1="198.2" y1="122.4" x2="194" y2="125.6" stroke="#111" stroke-width="0.7"/>
<line x1="281.7" y1="74.4" x2="287.5" y2="79.5" stroke="#111" stroke-width="0.7"/>
<text x="159.57" y="71.55" class="lb" textLength="8.82" lengthAdjust="spacingAndGlyphs">G8</text>
<text x="172.07" y="82.00" class="lb" textLength="9.90" lengthAdjust="spacingAndGlyphs">T24</text>
<text x="187.00" y="82.20" class="lb" textLength="11.27" lengthAdjust="spacingAndGlyphs">G56</text>
<text x="159.51" y="93.30" class="lb" textLength="11.27" lengthAdjust="spacingAndGlyphs">S55</text>
<text x="196.86" y="93.90" class="lb" textLength="10.62" lengthAdjust="spacingAndGlyphs">T84</text>
<text x="211.07" y="92.00" class="lb" textLength="10.19" lengthAdjust="spacingAndGlyphs">T18</text>
<text x="238.33" y="93.30" class="lb" textLength="10.58" lengthAdjust="spacingAndGlyphs">S57</text>
<text x="248.13" y="76.70" class="lb" textLength="10.76" lengthAdjust="spacingAndGlyphs">Q27</text>
<text x="285.94" y="83.50" class="lb" textLength="9.94" lengthAdjust="spacingAndGlyphs">S61</text>
<text x="251.60" y="104.20" class="lb" textLength="12.13" lengthAdjust="spacingAndGlyphs">Q32</text>
<text x="234.98" y="111.20" class="lb" textLength="12.35" lengthAdjust="spacingAndGlyphs">M37</text>
<text x="295.98" y="114.20" class="lb" textLength="11.31" lengthAdjust="spacingAndGlyphs">K46</text>
<text x="131.18" y="112.20" class="lb" textLength="11.20" lengthAdjust="spacingAndGlyphs">E63</text>
<text x="151.27" y="111.00" class="lb" textLength="10.70" lengthAdjust="spacingAndGlyphs">V66</text>
<text x="162.45" y="106.70" class="lb" textLength="11.89" lengthAdjust="spacingAndGlyphs">K42</text>
<text x="175.81" y="108.30" class="lb" textLength="11.07" lengthAdjust="spacingAndGlyphs">S16</text>
<text x="195.50" y="105.80" class="lb" textLength="7.91" lengthAdjust="spacingAndGlyphs">S9</text>
<text x="213.32" y="107.10" class="lb" textLength="10.96" lengthAdjust="spacingAndGlyphs">S76</text>
<text x="175.21" y="118.40" class="lb" textLength="11.10" lengthAdjust="spacingAndGlyphs">S81</text>
<text x="193.36" y="116.10" class="lb" textLength="8.11" lengthAdjust="spacingAndGlyphs">I54</text>
<text x="153.98" y="125.10" class="lb" textLength="9.61" lengthAdjust="spacingAndGlyphs">T92</text>
<text x="177.51" y="123.90" class="lb" textLength="11.74" lengthAdjust="spacingAndGlyphs">M30</text>
<text x="193.63" y="122.00" class="lb" textLength="10.37" lengthAdjust="spacingAndGlyphs">S82</text>
<text x="210.37" y="123.90" class="lb" textLength="10.11" lengthAdjust="spacingAndGlyphs">T14</text>
<text x="233.93" y="125.20" class="lb" textLength="10.93" lengthAdjust="spacingAndGlyphs">Q73</text>
<text x="162.78" y="132.30" class="lb" textLength="11.22" lengthAdjust="spacingAndGlyphs">E49</text>
<text x="176.33" y="130.80" class="lb" textLength="10.53" lengthAdjust="spacingAndGlyphs">S85</text>
<text x="152.39" y="138.50" class="lb" textLength="10.97" lengthAdjust="spacingAndGlyphs">K45</text>
<text x="189.21" y="138.20" class="lb" textLength="11.06" lengthAdjust="spacingAndGlyphs">N58</text>
<text x="208.50" y="136.20" class="lb" textLength="11.21" lengthAdjust="spacingAndGlyphs">N71</text>
<text x="224.71" y="134.80" class="lb" textLength="15.24" lengthAdjust="spacingAndGlyphs">Q100</text>
<text x="242.30" y="143.60" class="lb" textLength="9.14" lengthAdjust="spacingAndGlyphs">I47</text>
<text x="178.39" y="145.20" class="lb" textLength="8.59" lengthAdjust="spacingAndGlyphs">M4</text>
<text x="154.07" y="149.70" class="lb" textLength="9.85" lengthAdjust="spacingAndGlyphs">V70</text>
<text x="173.63" y="157.50" class="lb" textLength="8.64" lengthAdjust="spacingAndGlyphs">I35</text>
<text x="254.27" y="151.50" class="lb" textLength="11.03" lengthAdjust="spacingAndGlyphs">F39</text>
<text x="286.87" y="136.50" class="lb" textLength="10.73" lengthAdjust="spacingAndGlyphs">V31</text>
<text x="308.07" y="147.50" class="lb" textLength="10.81" lengthAdjust="spacingAndGlyphs">V64</text>
<text x="286.25" y="158.30" class="lb" textLength="12.36" lengthAdjust="spacingAndGlyphs">D43</text>
<text x="269.29" y="167.60" class="lb" textLength="11.34" lengthAdjust="spacingAndGlyphs">A67</text>
<text x="314.57" y="167.60" class="lb" textLength="10.71" lengthAdjust="spacingAndGlyphs">L65</text>
<text x="64.22" y="121.70" class="lb" textLength="10.93" lengthAdjust="spacingAndGlyphs">S40</text>
<text x="95.57" y="143.80" class="lb" textLength="11.60" lengthAdjust="spacingAndGlyphs">K60</text>
<text x="73.96" y="158.50" class="lb" textLength="11.04" lengthAdjust="spacingAndGlyphs">Y59</text>
<text x="150.72" y="162.10" class="lb" textLength="10.68" lengthAdjust="spacingAndGlyphs">S91</text>
<text x="145.40" y="171.90" class="lb" textLength="10.88" lengthAdjust="spacingAndGlyphs">E93</text>
<text x="138.38" y="180.60" class="lb" textLength="11.28" lengthAdjust="spacingAndGlyphs">E10</text>
<text x="155.30" y="185.30" class="lb" textLength="10.95" lengthAdjust="spacingAndGlyphs">E80</text>
<text x="237.19" y="169.80" class="lb" textLength="10.82" lengthAdjust="spacingAndGlyphs">A72</text>
<text x="201.31" y="176.50" class="lb" textLength="14.07" lengthAdjust="spacingAndGlyphs">K103</text>
<text x="224.09" y="180.50" class="lb" textLength="9.98" lengthAdjust="spacingAndGlyphs">A34</text>
<text x="251.80" y="180.80" class="lb" textLength="11.28" lengthAdjust="spacingAndGlyphs">N28</text>
<text x="180.39" y="190.50" class="lb" textLength="11.43" lengthAdjust="spacingAndGlyphs">D22</text>
<text x="199.37" y="188.00" class="lb" textLength="11.84" lengthAdjust="spacingAndGlyphs">R19</text>
<text x="218.70" y="190.30" class="lb" textLength="11.18" lengthAdjust="spacingAndGlyphs">R36</text>
<text x="203.05" y="197.20" class="lb" textLength="11.26" lengthAdjust="spacingAndGlyphs">L86</text>
<text x="172.41" y="198.20" class="lb" textLength="10.00" lengthAdjust="spacingAndGlyphs">L17</text>
<text x="181.57" y="205.80" class="lb" textLength="10.85" lengthAdjust="spacingAndGlyphs">L69</text>
<text x="198.99" y="203.40" class="lb" textLength="8.51" lengthAdjust="spacingAndGlyphs">A5</text>
<text x="155.29" y="216.00" class="lb" textLength="6.97" lengthAdjust="spacingAndGlyphs">A3</text>
<text x="236.38" y="250.50" class="lb" textLength="14.01" lengthAdjust="spacingAndGlyphs">L104</text>
<text x="54.62" y="207.70" class="lb" textLength="10.18" lengthAdjust="spacingAndGlyphs">F41</text>
<text x="108.46" y="236.50" class="lb" textLength="10.98" lengthAdjust="spacingAndGlyphs">L62</text>
<rect x="322.5" y="179.5" width="143.0" height="94.0" fill="#fff" stroke="#222" stroke-width="1"/>
<clipPath id="ic"><rect x="322.5" y="179.5" width="143.0" height="94.0"/></clipPath><g clip-path="url(#ic)">
<ellipse cx="357.3" cy="198.1" rx="3.8" ry="2.3" fill="#f5f5f5" stroke="#acacac" stroke-width="0.5"/>
<ellipse cx="357.3" cy="198.1" rx="2.36" ry="1.43" fill="none" stroke="#c6c6c6" stroke-width="0.45"/>
<ellipse cx="357.3" cy="198.1" rx="1.06" ry="0.64" fill="none" stroke="#c6c6c6" stroke-width="0.4"/>
<ellipse cx="367.5" cy="200.5" rx="4.5" ry="2.8" fill="#f5f5f5" stroke="#acacac" stroke-width="0.5"/>
<ellipse cx="367.5" cy="200.5" rx="2.79" ry="1.74" fill="none" stroke="#c6c6c6" stroke-width="0.45"/>
<ellipse cx="367.5" cy="200.5" rx="1.26" ry="0.78" fill="none" stroke="#c6c6c6" stroke-width="0.4"/>
<ellipse cx="372" cy="202" rx="4" ry="2.5" fill="#f5f5f5" stroke="#acacac" stroke-width="0.5"/>
<ellipse cx="372" cy="202" rx="2.48" ry="1.55" fill="none" stroke="#c6c6c6" stroke-width="0.45"/>
<ellipse cx="372" cy="202" rx="1.12" ry="0.70" fill="none" stroke="#c6c6c6" stroke-width="0.4"/>
<ellipse cx="383.4" cy="207.5" rx="4.5" ry="3.2" fill="#f5f5f5" stroke="#acacac" stroke-width="0.5"/>
<ellipse cx="383.4" cy="207.5" rx="2.79" ry="1.98" fill="none" stroke="#c6c6c6" stroke-width="0.45"/>
<ellipse cx="383.4" cy="207.5" rx="1.26" ry="0.90" fill="none" stroke="#c6c6c6" stroke-width="0.4"/>
<ellipse cx="338.4" cy="222.9" rx="4.0" ry="2.2" fill="#f5f5f5" stroke="#acacac" stroke-width="0.5"/>
<ellipse cx="338.4" cy="222.9" rx="2.48" ry="1.36" fill="none" stroke="#c6c6c6" stroke-width="0.45"/>
<ellipse cx="338.4" cy="222.9" rx="1.12" ry="0.62" fill="none" stroke="#c6c6c6" stroke-width="0.4"/>
<ellipse cx="372.5" cy="216.2" rx="4" ry="3" fill="#f5f5f5" stroke="#acacac" stroke-width="0.5"/>
<ellipse cx="372.5" cy="216.2" rx="2.48" ry="1.86" fill="none" stroke="#c6c6c6" stroke-width="0.45"/>
<ellipse cx="372.5" cy="216.2" rx="1.12" ry="0.84" fill="none" stroke="#c6c6c6" stroke-width="0.4"/>
<ellipse cx="375.4" cy="223.4" rx="4.5" ry="3.8" fill="#f5f5f5" stroke="#acacac" stroke-width="0.5"/>
<ellipse cx="375.4" cy="223.4" rx="2.79" ry="2.36" fill="none" stroke="#c6c6c6" stroke-width="0.45"/>
<ellipse cx="375.4" cy="223.4" rx="1.26" ry="1.06" fill="none" stroke="#c6c6c6" stroke-width="0.4"/>
<ellipse cx="383.4" cy="222.7" rx="4" ry="3" fill="#f5f5f5" stroke="#acacac" stroke-width="0.5"/>
<ellipse cx="383.4" cy="222.7" rx="2.48" ry="1.86" fill="none" stroke="#c6c6c6" stroke-width="0.45"/>
<ellipse cx="383.4" cy="222.7" rx="1.12" ry="0.84" fill="none" stroke="#c6c6c6" stroke-width="0.4"/>
<ellipse cx="389.9" cy="226.3" rx="4.5" ry="3.5" fill="#f5f5f5" stroke="#acacac" stroke-width="0.5"/>
<ellipse cx="389.9" cy="226.3" rx="2.79" ry="2.17" fill="none" stroke="#c6c6c6" stroke-width="0.45"/>
<ellipse cx="389.9" cy="226.3" rx="1.26" ry="0.98" fill="none" stroke="#c6c6c6" stroke-width="0.4"/>
<ellipse cx="429.4" cy="178.5" rx="7.8" ry="3.2" fill="#f5f5f5" stroke="#acacac" stroke-width="0.5"/>
<ellipse cx="429.4" cy="178.5" rx="4.84" ry="1.98" fill="none" stroke="#c6c6c6" stroke-width="0.45"/>
<ellipse cx="429.4" cy="178.5" rx="2.18" ry="0.90" fill="none" stroke="#c6c6c6" stroke-width="0.4"/>
<g transform="rotate(-20 438 190.5)">
<ellipse cx="438" cy="190.5" rx="6.5" ry="2.6" fill="#f5f5f5" stroke="#acacac" stroke-width="0.5"/>
<ellipse cx="438" cy="190.5" rx="4.03" ry="1.61" fill="none" stroke="#c6c6c6" stroke-width="0.45"/>
<ellipse cx="438" cy="190.5" rx="1.82" ry="0.73" fill="none" stroke="#c6c6c6" stroke-width="0.4"/>
</g>
<ellipse cx="450.6" cy="188.4" rx="5" ry="4.3" fill="#f5f5f5" stroke="#acacac" stroke-width="0.5"/>
<ellipse cx="450.6" cy="188.4" rx="3.10" ry="2.67" fill="none" stroke="#c6c6c6" stroke-width="0.45"/>
<ellipse cx="450.6" cy="188.4" rx="1.40" ry="1.20" fill="none" stroke="#c6c6c6" stroke-width="0.4"/>
<ellipse cx="447.9" cy="191.8" rx="2.5" ry="2" fill="#f5f5f5" stroke="#acacac" stroke-width="0.5"/>
<ellipse cx="447.9" cy="191.8" rx="1.55" ry="1.24" fill="none" stroke="#c6c6c6" stroke-width="0.45"/>
<ellipse cx="447.9" cy="191.8" rx="0.70" ry="0.56" fill="none" stroke="#c6c6c6" stroke-width="0.4"/>
<ellipse cx="417.5" cy="201.3" rx="4" ry="3.4" fill="#f5f5f5" stroke="#acacac" stroke-width="0.5"/>
<ellipse cx="417.5" cy="201.3" rx="2.48" ry="2.11" fill="none" stroke="#c6c6c6" stroke-width="0.45"/>
<ellipse cx="417.5" cy="201.3" rx="1.12" ry="0.95" fill="none" stroke="#c6c6c6" stroke-width="0.4"/>
<ellipse cx="424.3" cy="197.2" rx="6" ry="3" fill="#f5f5f5" stroke="#acacac" stroke-width="0.5"/>
<ellipse cx="424.3" cy="197.2" rx="3.72" ry="1.86" fill="none" stroke="#c6c6c6" stroke-width="0.45"/>
<ellipse cx="424.3" cy="197.2" rx="1.68" ry="0.84" fill="none" stroke="#c6c6c6" stroke-width="0.4"/>
<ellipse cx="430.4" cy="199.2" rx="4" ry="2.5" fill="#f5f5f5" stroke="#acacac" stroke-width="0.5"/>
<ellipse cx="430.4" cy="199.2" rx="2.48" ry="1.55" fill="none" stroke="#c6c6c6" stroke-width="0.45"/>
<ellipse cx="430.4" cy="199.2" rx="1.12" ry="0.70" fill="none" stroke="#c6c6c6" stroke-width="0.4"/>
<ellipse cx="404.8" cy="212.6" rx="5.5" ry="3" fill="#f5f5f5" stroke="#acacac" stroke-width="0.5"/>
<ellipse cx="404.8" cy="212.6" rx="3.41" ry="1.86" fill="none" stroke="#c6c6c6" stroke-width="0.45"/>
<ellipse cx="404.8" cy="212.6" rx="1.54" ry="0.84" fill="none" stroke="#c6c6c6" stroke-width="0.4"/>
<ellipse cx="413.3" cy="210.5" rx="5.5" ry="3" fill="#f5f5f5" stroke="#acacac" stroke-width="0.5"/>
<ellipse cx="413.3" cy="210.5" rx="3.41" ry="1.86" fill="none" stroke="#c6c6c6" stroke-width="0.45"/>
<ellipse cx="413.3" cy="210.5" rx="1.54" ry="0.84" fill="none" stroke="#c6c6c6" stroke-width="0.4"/>
<ellipse cx="432" cy="213.6" rx="5.5" ry="3" fill="#f5f5f5" stroke="#acacac" stroke-width="0.5"/>
<ellipse cx="432" cy="213.6" rx="3.41" ry="1.86" fill="none" stroke="#c6c6c6" stroke-width="0.45"/>
<ellipse cx="432" cy="213.6" rx="1.54" ry="0.84" fill="none" stroke="#c6c6c6" stroke-width="0.4"/>
<ellipse cx="445.2" cy="216.7" rx="5.5" ry="3.8" fill="#f5f5f5" stroke="#acacac" stroke-width="0.5"/>
<ellipse cx="445.2" cy="216.7" rx="3.41" ry="2.36" fill="none" stroke="#c6c6c6" stroke-width="0.45"/>
<ellipse cx="445.2" cy="216.7" rx="1.54" ry="1.06" fill="none" stroke="#c6c6c6" stroke-width="0.4"/>
<ellipse cx="444.4" cy="223.2" rx="5.5" ry="3.5" fill="#f5f5f5" stroke="#acacac" stroke-width="0.5"/>
<ellipse cx="444.4" cy="223.2" rx="3.41" ry="2.17" fill="none" stroke="#c6c6c6" stroke-width="0.45"/>
<ellipse cx="444.4" cy="223.2" rx="1.54" ry="0.98" fill="none" stroke="#c6c6c6" stroke-width="0.4"/>
<ellipse cx="418.8" cy="222" rx="9.5" ry="3" fill="#f5f5f5" stroke="#acacac" stroke-width="0.5"/>
<ellipse cx="418.8" cy="222" rx="5.89" ry="1.86" fill="none" stroke="#c6c6c6" stroke-width="0.45"/>
<ellipse cx="418.8" cy="222" rx="2.66" ry="0.84" fill="none" stroke="#c6c6c6" stroke-width="0.4"/>
<ellipse cx="413.3" cy="218.6" rx="2" ry="1.2" fill="#f5f5f5" stroke="#acacac" stroke-width="0.5"/>
<ellipse cx="413.3" cy="218.6" rx="1.24" ry="0.74" fill="none" stroke="#c6c6c6" stroke-width="0.45"/>
<ellipse cx="413.3" cy="218.6" rx="0.56" ry="0.34" fill="none" stroke="#c6c6c6" stroke-width="0.4"/>
<ellipse cx="398" cy="238.8" rx="4.2" ry="3.3" fill="#f5f5f5" stroke="#acacac" stroke-width="0.5"/>
<ellipse cx="398" cy="238.8" rx="2.60" ry="2.05" fill="none" stroke="#c6c6c6" stroke-width="0.45"/>
<ellipse cx="398" cy="238.8" rx="1.18" ry="0.92" fill="none" stroke="#c6c6c6" stroke-width="0.4"/>
<ellipse cx="408" cy="239.5" rx="7" ry="2.6" fill="#f5f5f5" stroke="#acacac" stroke-width="0.5"/>
<ellipse cx="408" cy="239.5" rx="4.34" ry="1.61" fill="none" stroke="#c6c6c6" stroke-width="0.45"/>
<ellipse cx="408" cy="239.5" rx="1.96" ry="0.73" fill="none" stroke="#c6c6c6" stroke-width="0.4"/>
<ellipse cx="419" cy="241" rx="4" ry="2.6" fill="#f5f5f5" stroke="#acacac" stroke-width="0.5"/>
<ellipse cx="419" cy="241" rx="2.48" ry="1.61" fill="none" stroke="#c6c6c6" stroke-width="0.45"/>
<ellipse cx="419" cy="241" rx="1.12" ry="0.73" fill="none" stroke="#c6c6c6" stroke-width="0.4"/>
<ellipse cx="425.8" cy="242.8" rx="4" ry="3" fill="#f5f5f5" stroke="#acacac" stroke-width="0.5"/>
<ellipse cx="425.8" cy="242.8" rx="2.48" ry="1.86" fill="none" stroke="#c6c6c6" stroke-width="0.45"/>
<ellipse cx="425.8" cy="242.8" rx="1.12" ry="0.84" fill="none" stroke="#c6c6c6" stroke-width="0.4"/>
<ellipse cx="448.8" cy="241.7" rx="6" ry="3.3" fill="#f5f5f5" stroke="#acacac" stroke-width="0.5"/>
<ellipse cx="448.8" cy="241.7" rx="3.72" ry="2.05" fill="none" stroke="#c6c6c6" stroke-width="0.45"/>
<ellipse cx="448.8" cy="241.7" rx="1.68" ry="0.92" fill="none" stroke="#c6c6c6" stroke-width="0.4"/>
<ellipse cx="429.7" cy="252.1" rx="5.5" ry="3" fill="#f5f5f5" stroke="#acacac" stroke-width="0.5"/>
<ellipse cx="429.7" cy="252.1" rx="3.41" ry="1.86" fill="none" stroke="#c6c6c6" stroke-width="0.45"/>
<ellipse cx="429.7" cy="252.1" rx="1.54" ry="0.84" fill="none" stroke="#c6c6c6" stroke-width="0.4"/>
<ellipse cx="396.6" cy="258.3" rx="5" ry="2.9" fill="#f5f5f5" stroke="#acacac" stroke-width="0.5"/>
<ellipse cx="396.6" cy="258.3" rx="3.10" ry="1.80" fill="none" stroke="#c6c6c6" stroke-width="0.45"/>
<ellipse cx="396.6" cy="258.3" rx="1.40" ry="0.81" fill="none" stroke="#c6c6c6" stroke-width="0.4"/>
<ellipse cx="351.2" cy="240.8" rx="4.5" ry="2.6" fill="#f5f5f5" stroke="#acacac" stroke-width="0.5"/>
<ellipse cx="351.2" cy="240.8" rx="2.79" ry="1.61" fill="none" stroke="#c6c6c6" stroke-width="0.45"/>
<ellipse cx="351.2" cy="240.8" rx="1.26" ry="0.73" fill="none" stroke="#c6c6c6" stroke-width="0.4"/>
<ellipse cx="363.8" cy="240.8" rx="5" ry="2.6" fill="#f5f5f5" stroke="#acacac" stroke-width="0.5"/>
<ellipse cx="363.8" cy="240.8" rx="3.10" ry="1.61" fill="none" stroke="#c6c6c6" stroke-width="0.45"/>
<ellipse cx="363.8" cy="240.8" rx="1.40" ry="0.73" fill="none" stroke="#c6c6c6" stroke-width="0.4"/>
<ellipse cx="374.6" cy="240" rx="5.5" ry="2.6" fill="#f5f5f5" stroke="#acacac" stroke-width="0.5"/>
<ellipse cx="374.6" cy="240" rx="3.41" ry="1.61" fill="none" stroke="#c6c6c6" stroke-width="0.45"/>
<ellipse cx="374.6" cy="240" rx="1.54" ry="0.73" fill="none" stroke="#c6c6c6" stroke-width="0.4"/>
<ellipse cx="376.5" cy="246.5" rx="4" ry="2.6" fill="#f5f5f5" stroke="#acacac" stroke-width="0.5"/>
<ellipse cx="376.5" cy="246.5" rx="2.48" ry="1.61" fill="none" stroke="#c6c6c6" stroke-width="0.45"/>
<ellipse cx="376.5" cy="246.5" rx="1.12" ry="0.73" fill="none" stroke="#c6c6c6" stroke-width="0.4"/>
<ellipse cx="377" cy="251" rx="3.8" ry="2.5" fill="#f5f5f5" stroke="#acacac" stroke-width="0.5"/>
<ellipse cx="377" cy="251" rx="2.36" ry="1.55" fill="none" stroke="#c6c6c6" stroke-width="0.45"/>
<ellipse cx="377" cy="251" rx="1.06" ry="0.70" fill="none" stroke="#c6c6c6" stroke-width="0.4"/>
<ellipse cx="376" cy="257" rx="4" ry="2.6" fill="#f5f5f5" stroke="#acacac" stroke-width="0.5"/>
<ellipse cx="376" cy="257" rx="2.48" ry="1.61" fill="none" stroke="#c6c6c6" stroke-width="0.45"/>
<ellipse cx="376" cy="257" rx="1.12" ry="0.73" fill="none" stroke="#c6c6c6" stroke-width="0.4"/>
<ellipse cx="337.8" cy="253" rx="7" ry="3.8" fill="#f5f5f5" stroke="#acacac" stroke-width="0.5"/>
<ellipse cx="337.8" cy="253" rx="4.34" ry="2.36" fill="none" stroke="#c6c6c6" stroke-width="0.45"/>
<ellipse cx="337.8" cy="253" rx="1.96" ry="1.06" fill="none" stroke="#c6c6c6" stroke-width="0.4"/>
<ellipse cx="332" cy="258" rx="5.5" ry="3" fill="#f5f5f5" stroke="#acacac" stroke-width="0.5"/>
<ellipse cx="332" cy="258" rx="3.41" ry="1.86" fill="none" stroke="#c6c6c6" stroke-width="0.45"/>
<ellipse cx="332" cy="258" rx="1.54" ry="0.84" fill="none" stroke="#c6c6c6" stroke-width="0.4"/>
<ellipse cx="345" cy="257" rx="5" ry="3" fill="#f5f5f5" stroke="#acacac" stroke-width="0.5"/>
<ellipse cx="345" cy="257" rx="3.10" ry="1.86" fill="none" stroke="#c6c6c6" stroke-width="0.45"/>
<ellipse cx="345" cy="257" rx="1.40" ry="0.84" fill="none" stroke="#c6c6c6" stroke-width="0.4"/>
<ellipse cx="340" cy="249" rx="4" ry="2.6" fill="#f5f5f5" stroke="#acacac" stroke-width="0.5"/>
<ellipse cx="340" cy="249" rx="2.48" ry="1.61" fill="none" stroke="#c6c6c6" stroke-width="0.45"/>
<ellipse cx="340" cy="249" rx="1.12" ry="0.73" fill="none" stroke="#c6c6c6" stroke-width="0.4"/>
</g>
<text x="348.94" y="195.80" class="sm" textLength="6.12" lengthAdjust="spacingAndGlyphs">S84</text>
<text x="361.74" y="195.20" class="sm" textLength="7.95" lengthAdjust="spacingAndGlyphs">D23</text>
<text x="372.35" y="196.90" class="sm" textLength="5.44" lengthAdjust="spacingAndGlyphs">D6</text>
<text x="383.23" y="202.60" class="sm" textLength="6.92" lengthAdjust="spacingAndGlyphs">Q80</text>
<text x="392.87" y="210.80" class="sm" textLength="9.33" lengthAdjust="spacingAndGlyphs">E101</text>
<text x="336.02" y="219.80" class="sm" textLength="5.76" lengthAdjust="spacingAndGlyphs">I35</text>
<text x="361.79" y="214.10" class="sm" textLength="7.00" lengthAdjust="spacingAndGlyphs">D79</text>
<text x="377.38" y="215.70" class="sm" textLength="8.65" lengthAdjust="spacingAndGlyphs">Q87</text>
<text x="386.76" y="219.30" class="sm" textLength="7.36" lengthAdjust="spacingAndGlyphs">E94</text>
<text x="393.18" y="223.00" class="sm" textLength="9.23" lengthAdjust="spacingAndGlyphs">E102</text>
<text x="357.79" y="226.00" class="sm" textLength="8.30" lengthAdjust="spacingAndGlyphs">Q78</text>
<text x="426.69" y="188.30" class="sm" textLength="6.59" lengthAdjust="spacingAndGlyphs">F26</text>
<text x="440.88" y="185.20" class="sm" textLength="7.20" lengthAdjust="spacingAndGlyphs">D48</text>
<text x="450.23" y="198.00" class="sm" textLength="7.96" lengthAdjust="spacingAndGlyphs">E65</text>
<text x="411.18" y="192.90" class="sm" textLength="7.20" lengthAdjust="spacingAndGlyphs">R98</text>
<text x="405.79" y="199.40" class="sm" textLength="6.30" lengthAdjust="spacingAndGlyphs">F11</text>
<text x="430.66" y="205.90" class="sm" textLength="7.30" lengthAdjust="spacingAndGlyphs">E50</text>
<text x="403.68" y="208.20" class="sm" textLength="6.60" lengthAdjust="spacingAndGlyphs">L86</text>
<text x="422.68" y="211.80" class="sm" textLength="7.23" lengthAdjust="spacingAndGlyphs">R87</text>
<text x="446.24" y="212.90" class="sm" textLength="7.27" lengthAdjust="spacingAndGlyphs">L89</text>
<text x="413.05" y="228.50" class="sm" textLength="3.14" lengthAdjust="spacingAndGlyphs">I7</text>
<text x="422.80" y="229.80" class="sm" textLength="8.20" lengthAdjust="spacingAndGlyphs">Q83</text>
<text x="444.36" y="231.00" class="sm" textLength="7.42" lengthAdjust="spacingAndGlyphs">K75</text>
<text x="407.12" y="233.30" class="sm" textLength="6.12" lengthAdjust="spacingAndGlyphs">K53</text>
<text x="395.76" y="246.20" class="sm" textLength="7.46" lengthAdjust="spacingAndGlyphs">E12</text>
<text x="412.16" y="249.30" class="sm" textLength="6.58" lengthAdjust="spacingAndGlyphs">I44</text>
<text x="428.80" y="240.90" class="sm" textLength="6.16" lengthAdjust="spacingAndGlyphs">L55</text>
<text x="447.09" y="248.80" class="sm" textLength="7.22" lengthAdjust="spacingAndGlyphs">A72</text>
<text x="427.29" y="258.80" class="sm" textLength="7.13" lengthAdjust="spacingAndGlyphs">A34</text>
<text x="393.15" y="264.90" class="sm" textLength="10.05" lengthAdjust="spacingAndGlyphs">K103</text>
<text x="342.31" y="238.30" class="sm" textLength="7.48" lengthAdjust="spacingAndGlyphs">Q19</text>
<text x="358.76" y="237.90" class="sm" textLength="7.63" lengthAdjust="spacingAndGlyphs">D83</text>
<text x="370.68" y="237.20" class="sm" textLength="8.36" lengthAdjust="spacingAndGlyphs">S97</text>
<text x="380.39" y="241.50" class="sm" textLength="6.19" lengthAdjust="spacingAndGlyphs">I90</text>
<text x="363.45" y="254.80" class="sm" textLength="7.65" lengthAdjust="spacingAndGlyphs">K13</text>
<text x="374.45" y="264.00" class="sm" textLength="7.65" lengthAdjust="spacingAndGlyphs">K66</text>
<text x="328.75" y="244.80" class="sm" textLength="5.24" lengthAdjust="spacingAndGlyphs">I21</text>
<text x="346.77" y="250.20" class="sm" textLength="7.09" lengthAdjust="spacingAndGlyphs">E60</text>
<text x="348.46" y="260.80" class="sm" textLength="7.64" lengthAdjust="spacingAndGlyphs">R29</text>
<text x="342.89" y="266.70" class="sm" textLength="6.13" lengthAdjust="spacingAndGlyphs">I52</text>
<text x="328.44" y="269.30" class="sm" textLength="8.56" lengthAdjust="spacingAndGlyphs">M88</text>
<line x1="366.7" y1="196" x2="368.2" y2="198.8" stroke="#111" stroke-width="0.6"/>
<line x1="374.7" y1="197.4" x2="373.2" y2="201" stroke="#111" stroke-width="0.6"/>
<line x1="385.5" y1="203.2" x2="383.4" y2="206" stroke="#111" stroke-width="0.6"/>
<line x1="369.6" y1="214.7" x2="372.5" y2="216.9" stroke="#111" stroke-width="0.6"/>
<line x1="379.7" y1="217.6" x2="378.3" y2="220.5" stroke="#111" stroke-width="0.6"/>
<line x1="387.7" y1="218.3" x2="386" y2="222.7" stroke="#111" stroke-width="0.6"/>
<line x1="392.3" y1="223.4" x2="390.9" y2="227" stroke="#111" stroke-width="0.6"/>
<line x1="366.7" y1="224.1" x2="372.5" y2="224.1" stroke="#111" stroke-width="0.6"/>
<line x1="418.2" y1="193.8" x2="420.9" y2="196.5" stroke="#111" stroke-width="0.6"/>
<line x1="412.1" y1="198.6" x2="414.8" y2="201.3" stroke="#111" stroke-width="0.6"/>
<line x1="431" y1="203.3" x2="428.3" y2="200.3" stroke="#111" stroke-width="0.6"/>
<line x1="421.1" y1="222.4" x2="423.4" y2="224.8" stroke="#111" stroke-width="0.6"/>
<line x1="410" y1="234.2" x2="410" y2="237.6" stroke="#111" stroke-width="0.6"/>
<line x1="398.1" y1="238.1" x2="398.1" y2="242" stroke="#111" stroke-width="0.6"/>
<line x1="415.7" y1="242.3" x2="415.7" y2="245.6" stroke="#111" stroke-width="0.6"/>
<line x1="428.9" y1="240.1" x2="425" y2="243.6" stroke="#111" stroke-width="0.6"/>
<line x1="349" y1="238" x2="352" y2="241" stroke="#111" stroke-width="0.6"/>
<line x1="381.5" y1="242.1" x2="378.6" y2="246.4" stroke="#111" stroke-width="0.6"/>
<line x1="370.9" y1="252" x2="375.1" y2="249.2" stroke="#111" stroke-width="0.6"/>
<line x1="332.4" y1="246.2" x2="337.3" y2="250" stroke="#111" stroke-width="0.6"/>
<line x1="347.1" y1="249.5" x2="342.8" y2="252.2" stroke="#111" stroke-width="0.6"/>
<line x1="349.9" y1="257.1" x2="348.2" y2="254.4" stroke="#111" stroke-width="0.6"/>
<line x1="345" y1="262" x2="341.7" y2="258.2" stroke="#111" stroke-width="0.6"/>
<line x1="334" y1="264.8" x2="335.1" y2="260.4" stroke="#111" stroke-width="0.6"/>
</svg></body></html>
